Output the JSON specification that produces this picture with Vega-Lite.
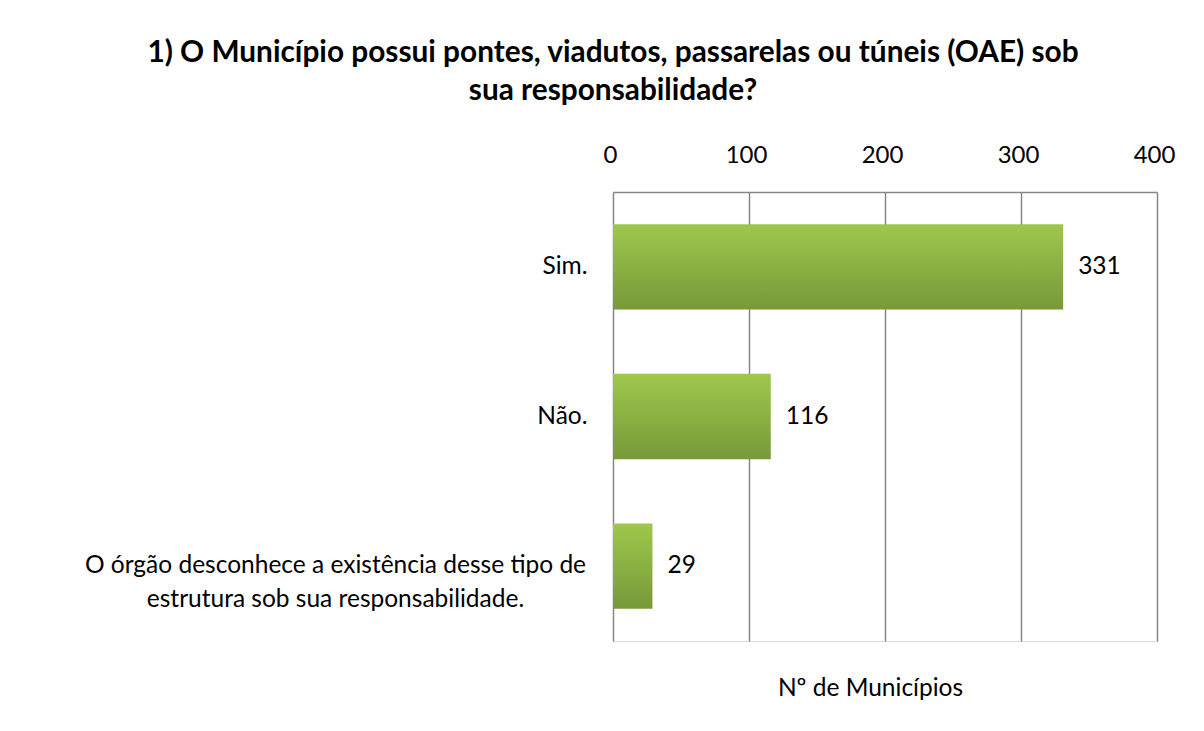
{
  "$schema": "https://vega.github.io/schema/vega-lite/v6.json",
  "autosize": "none",
  "width": 544,
  "height": 449,
  "padding": {"left": 613, "top": 192, "right": 47, "bottom": 90},
  "background": "white",
  "title": {
    "text": ["1) O Município possui pontes, viadutos, passarelas ou túneis (OAE) sob", "sua responsabilidade?"],
    "font": "Lato",
    "fontSize": 29.8,
    "fontWeight": "bold",
    "color": "black",
    "anchor": "middle",
    "frame": "group",
    "dx": -272,
    "lineHeight": 38,
    "offset": 37
  },
  "data": {
    "values": [
      {"resposta": "Sim.", "municipios": 331},
      {"resposta": "Não.", "municipios": 116},
      {"resposta": "O órgão desconhece a existência desse tipo de estrutura sob sua responsabilidade.", "municipios": 29}
    ]
  },
  "encoding": {
    "y": {
      "field": "resposta",
      "type": "nominal",
      "sort": null,
      "scale": {"paddingInner": 0.43, "paddingOuter": 0.215},
      "axis": {
        "title": null,
        "domain": false,
        "ticks": false,
        "labelFont": "Lato",
        "labelFontSize": 24.5,
        "labelColor": "black",
        "labelLimit": 0,
        "labelLineHeight": 34,
        "labelExpr": "length(datum.value) > 10 ? [slice(datum.value, 0, indexof(datum.value, ' estrutura')), slice(datum.value, indexof(datum.value, 'estrutura'))] : datum.value",
        "labelAlign": {"condition": {"test": "length(datum.value) > 10", "value": "center"}, "value": "right"},
        "labelPadding": {"condition": {"test": "length(datum.value) > 10", "value": 278}, "value": 26}
      }
    },
    "x": {
      "field": "municipios",
      "type": "quantitative",
      "scale": {"domain": [0, 400]},
      "axis": {
        "orient": "top",
        "values": [0, 100, 200, 300, 400],
        "grid": true,
        "gridColor": "#878787",
        "gridWidth": 1.5,
        "domainColor": "#878787",
        "domainWidth": 1.5,
        "ticks": false,
        "labelFlush": false,
        "labelOffset": -3,
        "labelPadding": 25,
        "labelFont": "Lato",
        "labelFontSize": 24,
        "labelColor": "black",
        "title": "Nº de Municípios",
        "titleFont": "Lato",
        "titleFontSize": 24.5,
        "titleFontWeight": "normal",
        "titleColor": "black",
        "titleX": 257,
        "titleY": 503,
        "titleAlign": "center",
        "titleBaseline": "alphabetic",
        "titleAngle": 0
      }
    }
  },
  "layer": [
    {
      "mark": {
        "type": "bar",
        "color": {
          "gradient": "linear",
          "x1": 0, "y1": 0, "x2": 0, "y2": 1,
          "stops": [
            {"offset": 0, "color": "#9fc74b"},
            {"offset": 1, "color": "#77993a"}
          ]
        }
      }
    },
    {
      "mark": {"type": "text", "align": "left", "baseline": "middle", "dx": 15, "font": "Lato", "fontSize": 24.5, "color": "black"},
      "encoding": {"text": {"field": "municipios", "type": "quantitative"}}
    }
  ]
}
